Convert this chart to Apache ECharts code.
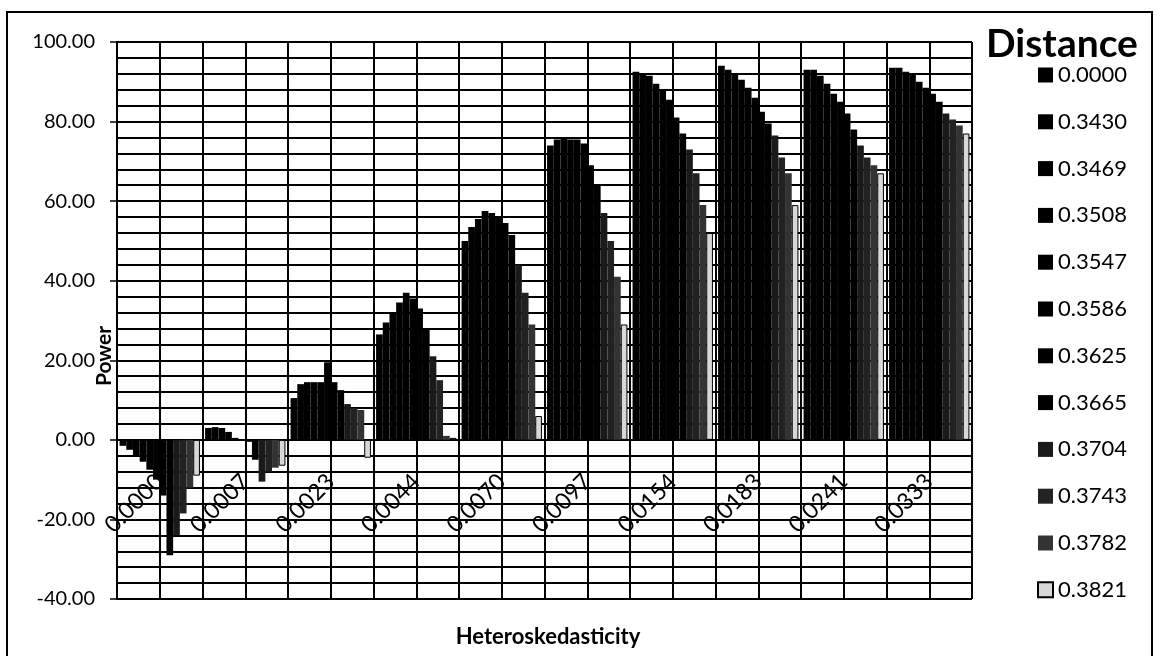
<!DOCTYPE html>
<html>
<head>
<meta charset="utf-8">
<script src="https://cdn.jsdelivr.net/npm/echarts@6/dist/echarts.min.js"></script>
<style>
html,body{margin:0;padding:0;background:#fff;}
#c{width:1158px;height:656px;}
</style>
</head>
<body>
<div id="c"></div>
<script>
// Categories (heteroskedasticity levels)
const categories = ['0.0000','0.0007','0.0023','0.0044','0.0070','0.0097','0.0154','0.0183','0.0241','0.0333'];
// Series names (distance)
const distances = ['0.0000','0.3430','0.3469','0.3508','0.3547','0.3586','0.3625','0.3665','0.3704','0.3743','0.3782','0.3821'];
// Power values per heteroskedasticity group (one value per distance)
const h0000 = [-1.5, -2.5, -4, -5.5, -7.5, -10, -14, -29, -24, -18.5, -12, -9];
const h0007 = [3, 3.2, 3, 2, 0.5, 0.2, -0.5, -5, -10.5, -8, -7, -6.5];
const h0023 = [10.5, 14, 14.5, 14.5, 14.5, 19.5, 14.5, 12.5, 9, 8, 7.5, -4.5];
const h0044 = [26.5, 29.5, 32, 34.5, 37, 35.5, 33, 28, 21, 15, 1, 0.5];
const h0070 = [50, 53.5, 55.5, 57.5, 57, 56, 54.5, 51.5, 44, 37, 29, 6];
const h0097 = [74, 75.5, 76, 75.5, 75.5, 74.5, 69, 64, 57, 50, 41, 29];
const h0154 = [92.5, 92, 91.5, 89.5, 88, 85.5, 81, 77, 73, 67, 59, 52];
const h0183 = [94, 93, 92, 90.5, 88.5, 86, 82.5, 79.5, 76.5, 71, 67, 59];
const h0241 = [93, 93, 91.5, 89.5, 87, 85, 82, 78, 74, 71, 69, 67];
const h0333 = [93.5, 93.5, 92.5, 92, 90, 88.5, 87, 85, 82, 80.5, 79, 77];
const groups = [h0000, h0007, h0023, h0044, h0070, h0097, h0154, h0183, h0241, h0333];
// Y tick range
const yMin = -40, yMax = 100, yStep = 20;

const colors = ['#000','#000','#000','#000','#000','#000','#000','#000','#1a1a1a','#222','#333','#d8d8d8'];
const FONT = 'Lato, "Open Sans", sans-serif';

const GRID_TOP = 42, GRID_H = 557;
// offset that moves the category axis from the grid bottom up to the value 0 line
const zeroOffset = -GRID_H * (0 - yMin) / (yMax - yMin);

const series = distances.map((d, si) => ({
  name: d,
  type: 'bar',
  xAxisIndex: 0,
  yAxisIndex: 0,
  barGap: '0%',
  barCategoryGap: '6%',
  data: groups.map(g => g[si]),
  itemStyle: si === distances.length - 1
    ? { color: colors[si], borderColor: '#000', borderWidth: 1 }
    : { color: colors[si] },
  emphasis: { disabled: true },
  animation: false
}));

const chart = echarts.init(document.getElementById('c'), null, { renderer: 'canvas' });
chart.setOption({
  backgroundColor: '#fff',
  animation: false,
  grid: { left: 117, top: GRID_TOP, width: 855, height: GRID_H, containLabel: false, outerBoundsMode: 'none' },
  legend: {
    orient: 'vertical',
    left: 1037,
    top: 64,
    padding: 0,
    itemWidth: 15,
    itemHeight: 15,
    itemGap: 24.8,
    icon: 'rect',
    textStyle: { fontFamily: FONT, fontSize: 22, color: '#000', lineHeight: 22 },
    data: distances
  },
  xAxis: [
    {
      type: 'category',
      data: categories,
      position: 'bottom',
      offset: zeroOffset,
      axisLine: { onZero: false, lineStyle: { color: '#000', width: 2 } },
      axisTick: { show: true, length: 6, lineStyle: { color: '#000', width: 1.5 } },
      axisLabel: { interval: 0, rotate: 45, margin: 38, fontFamily: FONT, fontSize: 23, color: '#000' },
      splitLine: { show: false }
    },
    {
      type: 'value',
      min: 0, max: 20, interval: 1,
      position: 'top',
      axisLine: { show: false, onZero: false },
      axisTick: { show: false },
      axisLabel: { show: false },
      splitLine: { show: true, lineStyle: { color: '#000', width: 2 } }
    }
  ],
  yAxis: {
    type: 'value',
    min: yMin, max: yMax, interval: yStep,
    axisLine: { show: true, onZero: false, lineStyle: { color: '#000', width: 2 } },
    axisTick: { show: true, length: 7, lineStyle: { color: '#000', width: 1.5 } },
    axisLabel: { margin: 22, fontFamily: FONT, fontSize: 20, color: '#000', formatter: v => v.toFixed(2) },
    splitLine: { show: true, lineStyle: { color: '#000', width: 2 } },
    minorTick: { show: false, splitNumber: 5 },
    minorSplitLine: { show: true, lineStyle: { color: '#000', width: 2 } }
  },
  graphic: [
    { type: 'rect', shape: { x: 7, y: 12, width: 1145, height: 650 }, style: { fill: 'none', stroke: '#000', lineWidth: 2 }, z: 100 },
    { type: 'text', x: 986, y: 44, style: { text: 'Distance', font: 'bold 39px ' + FONT, fill: '#000', textAlign: 'left', textVerticalAlign: 'middle' }, z: 100 },
    { type: 'text', x: 548, y: 637, style: { text: 'Heteroskedasticity', font: 'bold 22px ' + FONT, fill: '#000', textAlign: 'center', textVerticalAlign: 'middle' }, z: 100 },
    { type: 'text', x: 104, y: 356, rotation: Math.PI / 2, style: { text: 'Power', font: 'bold 21px ' + FONT, fill: '#000', textAlign: 'center', textVerticalAlign: 'middle' }, z: 100 }
  ],
  series: series
});
</script>
</body>
</html>
